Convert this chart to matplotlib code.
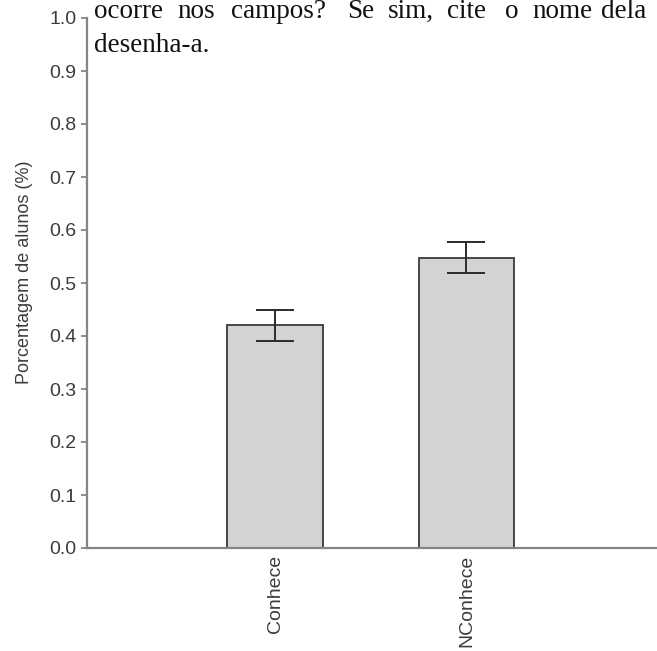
import matplotlib
matplotlib.use("Agg")
import matplotlib.pyplot as plt

categorias = ["Conhece", "NConhece"]
porcentagem = [0.42, 0.548]
erro = [0.03, 0.03]

# texto do documento que aparece no topo da figura
linha1 = ["ocorre", "nos", "campos?", "Se", "sim,", "cite", "o", "nome", "dela"]
linha1_x = [94, 177, 231, 347, 388, 447, 505, 532, 601]
linha2 = "desenha-a."

W, H = 657, 651
fig = plt.figure(figsize=(W / 100, H / 100), dpi=100)
ax = fig.add_axes([87 / W, 103 / H, (W - 87) / W, 530 / H])

x = range(len(categorias))
ax.bar(x, porcentagem, width=0.5, color="#d3d3d3", edgecolor="#3a3a3a",
       linewidth=1.3, zorder=2)
ax.errorbar(x, porcentagem, yerr=erro, fmt="none", ecolor="#2b2b2b",
            elinewidth=1.4, capsize=14, capthick=1.4, zorder=3)

ax.set_xlim(-0.982, 1.995)
ax.set_ylim(0, 1.0)
ax.set_yticks([i / 10 for i in range(11)])
ax.set_yticklabels([f"{i / 10:.1f}" for i in range(11)])
ax.set_xticks(list(x))
ax.set_xticklabels(categorias, rotation=90)

for s in ["top", "right"]:
    ax.spines[s].set_visible(False)
for s in ["left", "bottom"]:
    ax.spines[s].set_color("#858585")
    ax.spines[s].set_linewidth(1.6)

ax.tick_params(axis="y", direction="out", length=4.5, width=1.3,
               color="#858585", pad=3, labelsize=14, labelcolor="#3c3c3c")
ax.tick_params(axis="x", length=0, pad=5, labelsize=14, labelcolor="#3c3c3c")
for t in ax.get_xticklabels() + ax.get_yticklabels():
    t.set_fontfamily("Liberation Sans")

ax.set_ylabel("Porcentagem de alunos (%)", fontsize=13, color="#3c3c3c",
              family="Liberation Sans")
ax.yaxis.set_label_coords(-0.095, 0.52)

for palavra, px in zip(linha1, linha1_x):
    fig.text(px / W, 1 - 18 / H, palavra, family="Liberation Serif",
             fontsize=19.5, color="#111111", va="baseline", ha="left")
fig.text(94 / W, 1 - 52 / H, linha2, family="Liberation Serif",
         fontsize=19.5, color="#111111", va="baseline", ha="left")

fig.savefig("out.png", dpi=100)
